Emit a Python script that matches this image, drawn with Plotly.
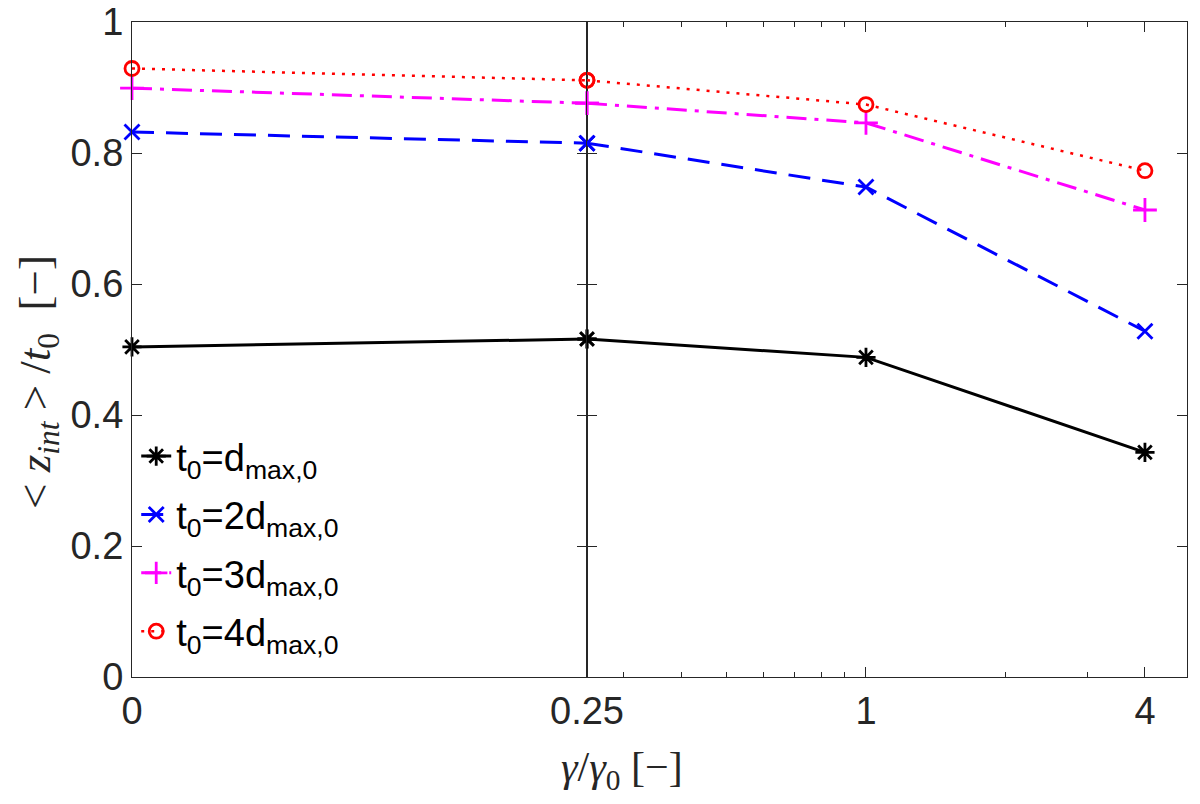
import plotly.graph_objects as go

# ---- data ----
x_vals = [0, 0.25, 1, 4]          # gamma/gamma0 ("0" shown at left edge)
x_tick_labels = ["0", "0.25", "1", "4"]
series_names = [
    "t<sub>0</sub>=d<sub>max,0</sub>",
    "t<sub>0</sub>=2d<sub>max,0</sub>",
    "t<sub>0</sub>=3d<sub>max,0</sub>",
    "t<sub>0</sub>=4d<sub>max,0</sub>",
]
y_t1 = [0.504, 0.516, 0.488, 0.343]
y_t2 = [0.832, 0.815, 0.748, 0.528]
y_t3 = [0.899, 0.876, 0.846, 0.713]
y_t4 = [0.929, 0.911, 0.874, 0.773]
y_ticks = [0, 0.2, 0.4, 0.6, 0.8, 1]
minor_ticks = [0.3, 0.4, 0.5, 0.6, 0.7, 0.8, 0.9, 2, 3]

series = [y_t1, y_t2, y_t3, y_t4]
colors = ["#000000", "#0000FF", "#FF00FF", "#FF0000"]
symbols = ["asterisk-open", "x-thin-open", "cross-thin-open", "circle-open"]
dashes = ["solid", "22px,12px", "20px,8px,4px,8px", "3px,7px"]
widths = [3, 3, 3, 2.5]
msizes = [16, 15, 17, 14]

# ---- layout geometry (pixels, in the screenshot) ----
W, H = 1200, 804
OFF = 8                      # page body margin
L, R, T, B = 132, 1187, 22, 677
split = (587 - L) / (R - L)

fig = go.Figure()
for vals, name, c, s, d, w, ms in zip(series, series_names, colors, symbols, dashes, widths, msizes):
    mk = dict(symbol=s, size=ms, color=c, line=dict(color=c, width=2.8))
    # left panel segment (linear part 0 .. 0.25)
    fig.add_trace(go.Scatter(
        x=x_vals[:2], y=vals[:2], name=name, mode="lines+markers",
        line=dict(color=c, width=w, dash=d), marker=mk,
        xaxis="x", yaxis="y", cliponaxis=False, legendgroup=name))
    # right panel segment (log part 0.25 .. 4)
    fig.add_trace(go.Scatter(
        x=x_vals[1:], y=vals[1:], name=name, mode="lines+markers",
        line=dict(color=c, width=w, dash=d), marker=mk,
        xaxis="x2", yaxis="y2", cliponaxis=False, showlegend=False, legendgroup=name))

axcol = "#262626"
tickfont = dict(family="Liberation Sans, Arial, sans-serif", size=38, color=axcol)
common_ax = dict(showline=True, linecolor=axcol, linewidth=1.2, ticks="inside",
                 tickcolor=axcol, tickwidth=1, showgrid=False, zeroline=False,
                 mirror="ticks", tickfont=tickfont, automargin=False,
                 ticklabeloverflow="allow")

fig.update_layout(
    width=W, height=H,
    margin=dict(l=L - OFF, r=W - R + OFF, t=T - OFF, b=H - B + OFF, autoexpand=False),
    plot_bgcolor="white", paper_bgcolor="white",
    xaxis=dict(domain=[0, split], range=[0, 0.25], tickvals=[x_vals[0]],
               ticktext=[x_tick_labels[0]], ticklen=0, anchor="y", **common_ax),
    xaxis2=dict(domain=[split, 1], type="log",
                range=[-0.60206, 0.6928], tickvals=x_vals[1:], ticktext=x_tick_labels[1:],
                ticklen=10, anchor="y2",
                minor=dict(tickvals=minor_ticks, ticks="inside", ticklen=5, tickcolor=axcol),
                **common_ax),
    yaxis=dict(domain=[0, 1], range=[0, 1], tickvals=y_ticks, ticklen=10, anchor="x",
               ticksuffix=" ", **common_ax),
    yaxis2=dict(domain=[0, 1], range=[0, 1], tickvals=y_ticks, ticklen=10, anchor="x2",
                matches="y", showticklabels=False, **common_ax),
    legend=dict(x=0.004, y=0.385, xanchor="left", yanchor="top",
                bgcolor="rgba(255,255,255,0)", borderwidth=0,
                font=dict(family="Liberation Sans, Arial, sans-serif", size=38, color="#000000"),
                itemwidth=30, tracegroupgap=6),
    showlegend=True,
    annotations=[
        dict(text="<i>γ</i>/<i>γ</i><sub>0</sub> [−]", xref="paper", yref="paper",
             x=(622 - L) / (R - L), y=(B - 770) / (B - T), xanchor="center", yanchor="middle",
             showarrow=False, font=dict(family="Liberation Serif, DejaVu Serif, serif", size=42, color=axcol)),
        dict(text="&lt; <i>z</i><sub><i>int</i></sub> &gt; /<i>t</i><sub>0</sub>  [−]", xref="paper", yref="paper",
             x=(38 - L) / (R - L), y=(B - 382) / (B - T), xanchor="center", yanchor="middle",
             textangle=-90, showarrow=False,
             font=dict(family="Liberation Serif, DejaVu Serif, serif", size=45, color=axcol)),
    ],
)

fig.write_html("out.html")
